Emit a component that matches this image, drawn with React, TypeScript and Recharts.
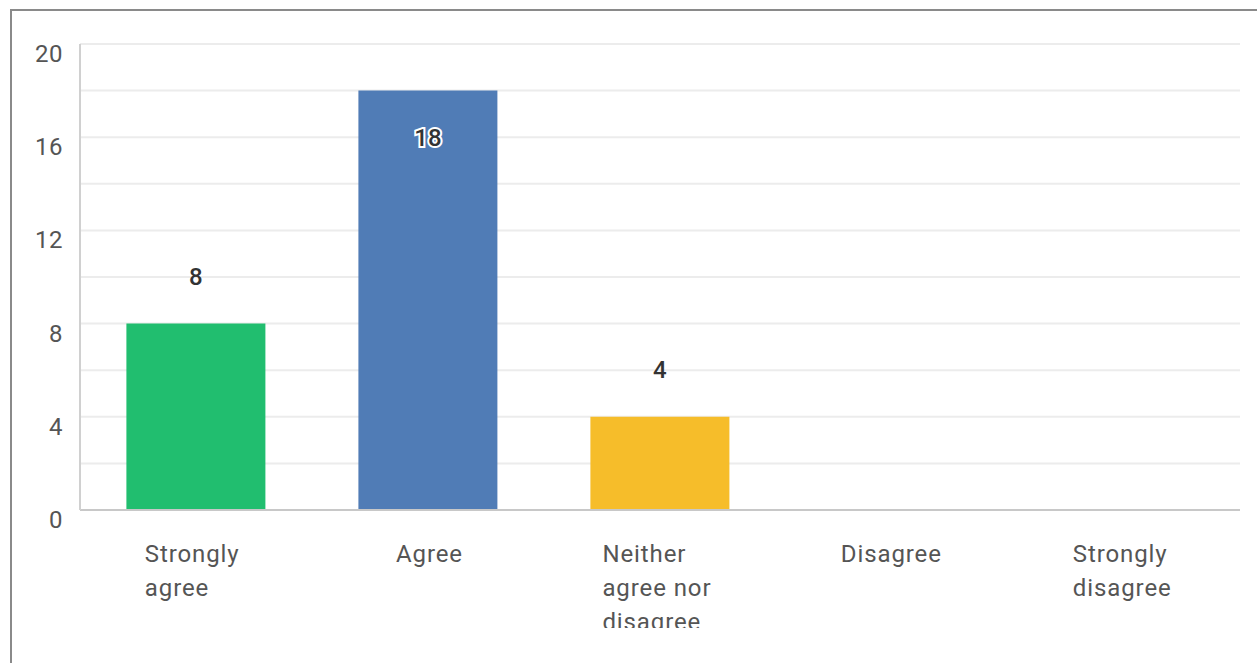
import React from 'react'
import { BarChart, Bar, XAxis, YAxis, CartesianGrid, Cell, LabelList } from 'recharts'

const categories = ['Strongly agree', 'Agree', 'Neither agree nor disagree', 'Disagree', 'Strongly disagree']
const tickLines = [['Strongly', 'agree'], ['Agree'], ['Neither', 'agree nor', 'disagree'], ['Disagree'], ['Strongly', 'disagree']]
const counts = [8, 18, 4, 0, 0]
const yTicks = [0, 2, 4, 6, 8, 10, 12, 14, 16, 18, 20]
const yLabels = [0, 4, 8, 12, 16, 20]

const COLORS = ['#21BE6F', '#507CB6', '#F6BD2A', '#D8D8D8', '#D8D8D8']
const FONT = 'Roboto, "Open Sans", sans-serif'

const data = categories.map((c, i) => ({ name: c, count: counts[i] }))

function YTick(props: any) {
  const { y, payload } = props
  if (!yLabels.includes(payload.value)) return null
  return (
    <text x={63} y={y + 10} textAnchor="end" dominantBaseline="central" fontSize={24} fill="#555" fontFamily={FONT} letterSpacing={0.5}>
      {payload.value}
    </text>
  )
}

function XTick(props: any) {
  const { x, payload, index } = props
  const lines = tickLines[index] || [payload.value]
  const w = Math.max(...lines.map((l: string) => l.length)) * 12.8
  return (
    <g>
      {lines.map((l: string, i: number) => (
        <text key={i} x={x - w / 2} y={554 + i * 34} textAnchor="start" dominantBaseline="central" fontSize={24} fill="#555" fontFamily={FONT} letterSpacing={0.9}>
          {l}
        </text>
      ))}
    </g>
  )
}

function ValueLabel(props: any) {
  const { x, y, width, value } = props
  if (!value) return null
  const inside = value >= 16
  return (
    <text
      x={x + width / 2}
      y={inside ? y + 47 : y - 47}
      textAnchor="middle"
      dominantBaseline="central"
      fontSize={24}
      fontWeight={500}
      fill="#333"
      stroke={inside ? '#fff' : 'none'}
      strokeWidth={4}
      paintOrder="stroke"
      fontFamily={FONT}
    >
      {value}
    </text>
  )
}

export default function App() {
  return (
    <div style={{ position: 'absolute', left: 0, top: 0, width: 1257, height: 663, overflow: 'hidden', background: '#fff' }}>
      <div style={{ position: 'absolute', left: 10, top: 9, width: 1260, height: 700, borderLeft: '2px solid #8a8a8a', borderTop: '2px solid #8a8a8a' }} />
      <div style={{ position: 'absolute', left: 0, top: 0 }}>
        <BarChart width={1257} height={628} data={data} margin={{ top: 44, right: 17, bottom: 88, left: 0 }} barCategoryGap="20%">
          <CartesianGrid vertical={false} stroke="#ececec" strokeWidth={2} />
          <XAxis dataKey="name" tick={<XTick />} tickLine={false} axisLine={{ stroke: '#c8c8c8', strokeWidth: 2 }} interval={0} height={30} />
          <YAxis domain={[0, 20]} ticks={yTicks} tick={<YTick />} tickLine={false} axisLine={{ stroke: '#d0d0d0', strokeWidth: 2 }} width={80} interval={0} />
          <Bar dataKey="count" isAnimationActive={false}>
            {data.map((_, i) => (
              <Cell key={i} fill={COLORS[i]} />
            ))}
            <LabelList dataKey="count" content={<ValueLabel />} />
          </Bar>
        </BarChart>
      </div>
    </div>
  )
}
